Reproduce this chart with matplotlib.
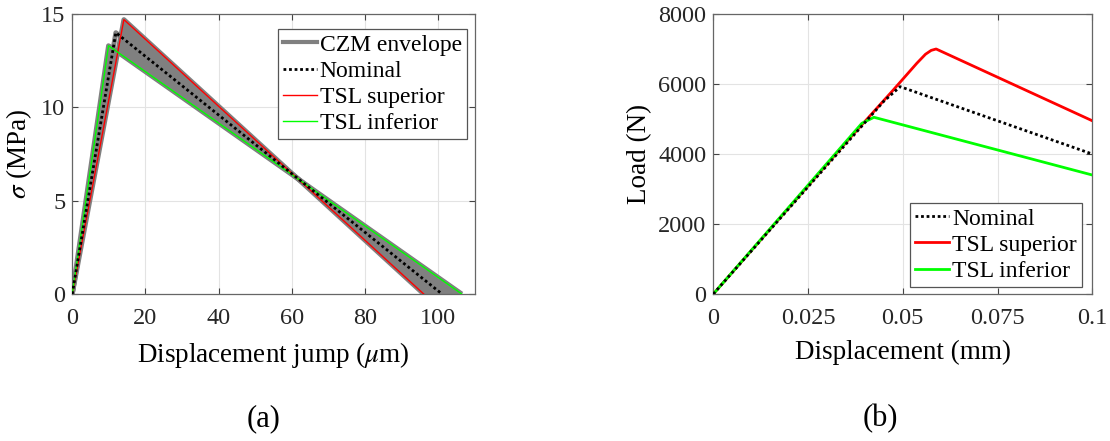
import matplotlib
matplotlib.use('Agg')
import matplotlib.pyplot as plt
import numpy as np

plt.rcParams.update({'font.family': 'Liberation Serif', 'mathtext.fontset': 'stix',
                     'font.size': 17})

# (a) traction-separation laws: displacement jump (um) vs sigma (MPa)
jump_nom = [0, 11.9, 101.0]
sig_nom = [0, 14.0, 0]
jump_sup = [0, 14.1, 96.0]
sig_sup = [0, 14.7, 0]
jump_inf = [0, 9.9, 106.4]
sig_inf = [0, 13.3, 0]

# (b) load-displacement response
disp_nom = [0, 0.0449, 0.0493, 0.1]
load_nom = [0, 5496, 5924, 4000]
disp_sup = [0, 0.036, 0.0475, 0.0537, 0.056, 0.0575, 0.0588, 0.1]
load_sup = [0, 4449, 5829, 6591, 6850, 6960, 7000, 4950]
disp_inf = [0, 0.0392, 0.0424, 0.1]
load_inf = [0, 4877, 5049, 3400]

fig = plt.figure(figsize=(11.1, 4.41), dpi=100)
ax1 = fig.add_axes([0.0651, 0.3333, 0.3628, 0.635])
ax2 = fig.add_axes([0.6426, 0.3333, 0.3414, 0.635])

grey = '#808080'
# envelope: filled region between superior and inferior, with round strokes
env_x = jump_sup + jump_inf[::-1]
env_y = sig_sup + sig_inf[::-1]
ax1.fill(env_x, env_y, color=grey, lw=0, zorder=1)
for xs, ys in [(jump_sup, sig_sup), (jump_inf, sig_inf), (jump_nom, sig_nom)]:
    ax1.plot(xs, ys, color=grey, lw=3.5, solid_joinstyle='round', solid_capstyle='butt', zorder=1)
ax1.plot([], [], color=grey, lw=3, label='CZM envelope')
ax1.plot(jump_nom, sig_nom, color='black', ls=(0, (1, 1)), lw=2, label='Nominal', zorder=4)
ax1.plot(jump_sup, sig_sup, color='#ff0000', lw=1, label='TSL superior', zorder=3)
ax1.plot(jump_inf, sig_inf, color='#00ff00', lw=1, label='TSL inferior', zorder=3)
ax1.set_xlim(0, 110)
ax1.set_ylim(0, 15)
ax1.set_xticks([0, 20, 40, 60, 80, 100])
ax1.set_yticks([0, 5, 10, 15])
ax1.set_xlabel(r'Displacement jump ($\mu$m)', fontsize=19.5, labelpad=8)
ax1.set_ylabel(r'$\sigma$ (MPa)', fontsize=19.5, labelpad=5)

ax2.plot(disp_nom, load_nom, color='black', ls=(0, (1, 1)), lw=2, label='Nominal', zorder=4)
ax2.plot(disp_sup, load_sup, color='#ff0000', lw=2, label='TSL superior', zorder=3)
ax2.plot(disp_inf, load_inf, color='#00ff00', lw=2, label='TSL inferior', zorder=3)
ax2.set_xlim(0, 0.1)
ax2.set_ylim(0, 8000)
ax2.set_xticks([0, 0.025, 0.05, 0.075, 0.1])
ax2.set_xticklabels(['0', '0.025', '0.05', '0.075', '0.1'])
ax2.set_yticks([0, 2000, 4000, 6000, 8000])
ax2.set_xlabel('Displacement (mm)', fontsize=19.5, labelpad=8)
ax2.set_ylabel('Load (N)', fontsize=19.5, labelpad=4)

for ax in (ax1, ax2):
    ax.grid(True, color='#e3e3e3', lw=0.8)
    ax.set_axisbelow(True)
    for s in ax.spines.values():
        s.set_color('#666666')
        s.set_linewidth(0.9)
    ax.tick_params(direction='in', length=4, width=0.8, color='#444444',
                   top=True, right=True, labelsize=17.5, labelcolor='#262626')
    ax.tick_params(axis='x', pad=10)
    ax.tick_params(axis='y', pad=5)

leg1 = ax1.legend(loc='upper right', bbox_to_anchor=(0.979, 0.945), fontsize=17,
                  fancybox=False, framealpha=1, edgecolor='#555555', handlelength=1.45,
                  handletextpad=0.1, labelspacing=0.2, borderpad=0.2, borderaxespad=0)
leg2 = ax2.legend(loc='lower right', bbox_to_anchor=(0.972, 0.026), fontsize=17,
                  fancybox=False, framealpha=1, edgecolor='#555555', handlelength=1.45,
                  handletextpad=0.15, labelspacing=0.2, borderpad=0.2, borderaxespad=0)
for leg in (leg1, leg2):
    leg.get_frame().set_linewidth(0.9)

fig.text(264 / 1110, 1 - 419 / 441, '(a)', fontsize=22, ha='center', va='center')
fig.text(880 / 1110, 1 - 419 / 441, '(b)', fontsize=22, ha='center', va='center')

fig.savefig('out.png', dpi=100)
